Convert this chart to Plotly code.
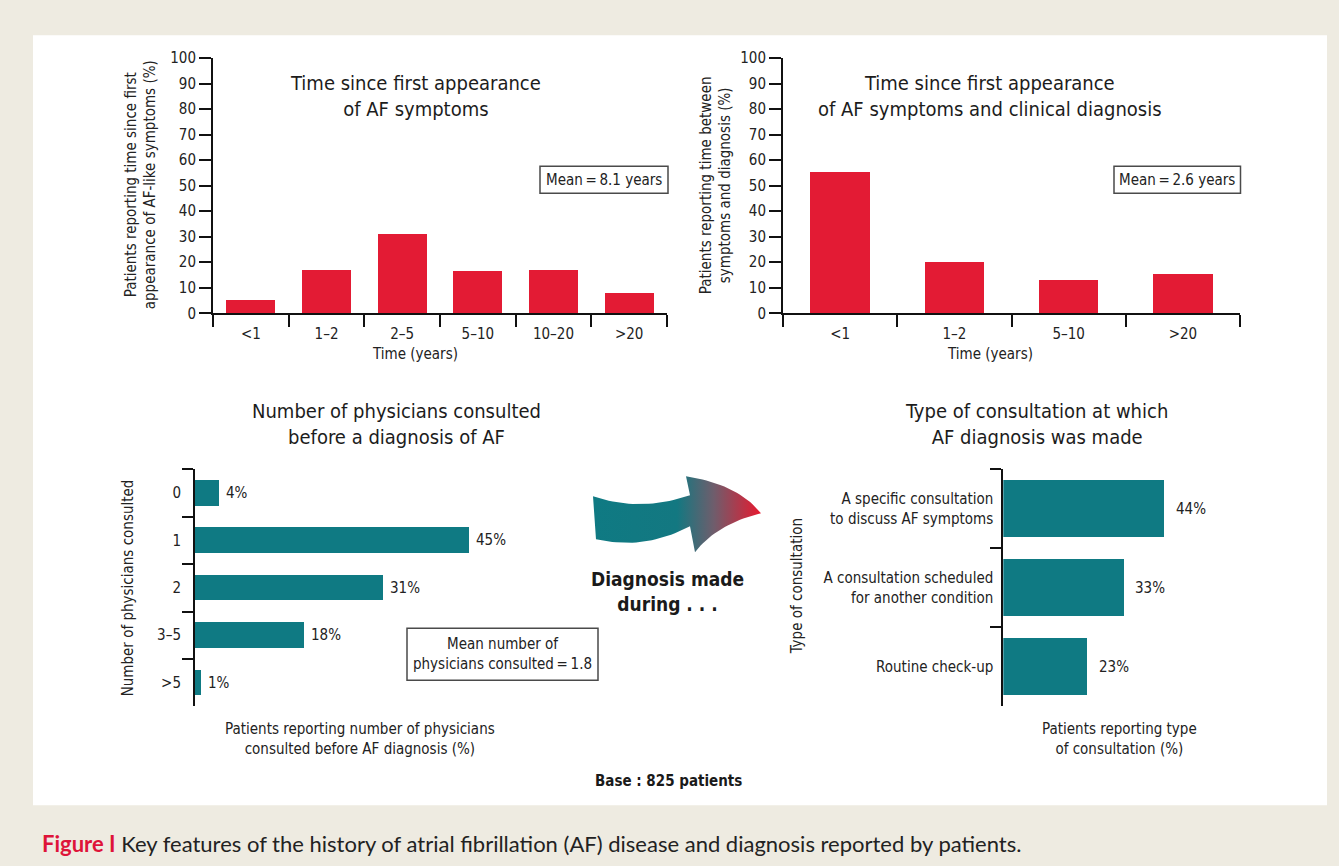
import plotly.graph_objects as go

W, H = 1339, 866

# ---- data -------------------------------------------------------------
onset_categories = ['<1', '1–2', '2–5', '5–10', '10–20', '>20']
onset_percent = [5, 17, 31, 16.5, 17, 7.8]

delay_categories = ['<1', '1–2', '5–10', '>20']
delay_percent = [55.4, 20, 13, 15.3]

physician_categories = ['0', '1', '2', '3–5', '>5']
physician_percent = [4, 45, 31, 18, 1]

consult_categories = [
    'A specific consultation<br>to discuss AF symptoms',
    'A consultation scheduled<br>for another condition',
    'Routine check-up',
]
consult_percent = [44, 33, 23]

percent_ticks = list(range(0, 101, 10))

# ---- styling ------------------------------------------------------------
RED = '#E31B34'
TEAL = '#0F7A83'
INK = '#111111'
TXT = '#222222'
FONT = 'Liberation Sans Narrow, Arial Narrow, DejaVu Sans Condensed, sans-serif'
CAPTION_FONT = 'Lato, Open Sans, sans-serif'

# vertical layout positions are given in page pixels around a centre line
YC, YS = 420.0, 0.979


def page_y(y):
    return YC + (y - YC) / YS


def fx(x):
    return x / W


def fy(y):
    return 1 - page_y(y) / H


axis_line = dict(showline=True, linewidth=2, linecolor=INK, ticks='outside',
                 tickwidth=2, tickcolor=INK, showgrid=False, zeroline=False,
                 tickfont=dict(family=FONT, size=15, color=TXT))

fig = go.Figure()

fig.add_trace(go.Bar(x=onset_categories, y=onset_percent, width=0.65,
                     marker=dict(color=RED, line=dict(width=0)),
                     xaxis='x', yaxis='y', showlegend=False))
fig.add_trace(go.Bar(x=delay_categories, y=delay_percent, width=0.52,
                     marker=dict(color=RED, line=dict(width=0)),
                     xaxis='x2', yaxis='y2', showlegend=False))
fig.add_trace(go.Bar(y=physician_categories, x=physician_percent, orientation='h',
                     width=0.54, marker=dict(color=TEAL, line=dict(width=0)),
                     xaxis='x3', yaxis='y3', showlegend=False))
fig.add_trace(go.Bar(y=consult_categories, x=consult_percent, orientation='h',
                     width=0.73, marker=dict(color=TEAL, line=dict(width=0)),
                     xaxis='x4', yaxis='y4', showlegend=False))


# curved "diagnosis" arrow drawn on a full-page pixel axis
def qbez(p0, c, p1, n=24):
    pts = []
    for i in range(n + 1):
        t = i / n
        x = (1 - t) ** 2 * p0[0] + 2 * (1 - t) * t * c[0] + t ** 2 * p1[0]
        y = (1 - t) ** 2 * p0[1] + 2 * (1 - t) * t * c[1] + t ** 2 * p1[1]
        pts.append((x, y))
    return pts


outline = []
outline += qbez((593, 496), (640, 512), (690, 495))
outline += [(686, 476)]
outline += qbez((686, 476), (738, 484), (761, 513))
outline += qbez((761, 513), (716, 524), (695, 552))
outline += [(690, 526)]
outline += qbez((690, 526), (645, 550), (596, 539))
outline += [(593, 496)]
fig.add_trace(go.Scatter(
    x=[p[0] for p in outline], y=[page_y(p[1]) for p in outline],
    mode='lines', line=dict(width=0), fill='toself',
    fillgradient=dict(type='horizontal',
                      colorscale=[[0, TEAL], [0.5, '#137881'], [0.72, '#6f5d6c'],
                                  [1, '#E8192F']]),
    xaxis='x5', yaxis='y5', showlegend=False, hoverinfo='skip'))

fig.update_layout(
    width=W, height=H, margin=dict(l=0, r=0, t=0, b=0),
    paper_bgcolor='#EEEBE1', plot_bgcolor='rgba(0,0,0,0)',
    bargap=0,
    xaxis=dict(domain=[fx(213), fx(667)], type='category', range=[-0.5, 5.5],
               tickson='boundaries', ticklen=12, ticklabelstandoff=6, anchor='y',
               **axis_line),
    yaxis=dict(domain=[fy(313), fy(58)], range=[0, 100], tickvals=percent_ticks,
               ticklen=12, anchor='x', **axis_line),
    xaxis2=dict(domain=[fx(783), fx(1240)], type='category', range=[-0.5, 3.5],
                tickson='boundaries', ticklen=12, ticklabelstandoff=6, anchor='y2',
                **axis_line),
    yaxis2=dict(domain=[fy(313), fy(58)], range=[0, 100], tickvals=percent_ticks,
                ticklen=12, anchor='x2', **axis_line),
    xaxis3=dict(domain=[fx(195), fx(195 + 6.08 * 50)], range=[0, 50], visible=False,
                anchor='y3'),
    yaxis3=dict(domain=[fy(706), fy(469)], type='category', range=[4.5, -0.5],
                tickson='boundaries', ticklen=11, ticklabelstandoff=9, anchor='x3',
                **axis_line),
    xaxis4=dict(domain=[fx(1003.3), fx(1003.3 + 3.67 * 50)], range=[0, 50],
                visible=False, anchor='y4'),
    yaxis4=dict(domain=[fy(706), fy(469)], type='category', range=[2.5, -0.5],
                tickson='boundaries', ticklen=11, ticklabelstandoff=5, anchor='x4',
                **axis_line),
    xaxis5=dict(domain=[0, 1], range=[0, W], visible=False, anchor='y5'),
    yaxis5=dict(domain=[0, 1], range=[H, 0], visible=False, anchor='x5'),
)

# white panel and the boxed notes
shapes = [dict(type='rect', xref='paper', yref='paper', x0=fx(33), x1=fx(1327),
               y0=fy(805), y1=fy(35), fillcolor='white', line=dict(width=0),
               layer='below')]
for (x0, y0, x1, y1) in [(540, 166, 668, 193), (1114, 166, 1240.5, 193),
                         (407, 628, 598, 680)]:
    shapes.append(dict(type='rect', xref='paper', yref='paper', x0=fx(x0), x1=fx(x1),
                       y0=fy(y1), y1=fy(y0), line=dict(color='#4a4a4a', width=1.5),
                       fillcolor='rgba(0,0,0,0)'))
fig.update_layout(shapes=shapes)

ann = []


def text(x, y, s, size=15, bold=False, angle=0, color=TXT, family=FONT,
         xanchor='center'):
    ann.append(dict(xref='paper', yref='paper', x=fx(x), y=fy(y), text=s,
                    showarrow=False, textangle=angle, xanchor=xanchor,
                    yanchor='middle',
                    font=dict(family=family, size=size, color=color)))


# chart titles
text(415, 96, 'Time since first appearance<br>of AF symptoms', size=20, color='#1c1c1c')
text(990, 96, 'Time since first appearance<br>of AF symptoms and clinical diagnosis',
     size=20, color='#1c1c1c')
text(396, 424, 'Number of physicians consulted<br>before a diagnosis of AF', size=20,
     color='#1c1c1c')
text(1036, 424, 'Type of consultation at which<br>AF diagnosis was made', size=20,
     color='#1c1c1c')

# axis titles
text(141, 185, 'Patients reporting time since first<br>appearance of AF-like symptoms (%)',
     angle=-90)
text(716, 185, 'Patients reporting time between<br>symptoms and diagnosis (%)', angle=-90)
text(415, 354, 'Time (years)')
text(990, 354, 'Time (years)')
text(128, 588, 'Number of physicians consulted', angle=-90)
text(360, 739, 'Patients reporting number of physicians<br>consulted before AF diagnosis (%)')
text(797, 586, 'Type of consultation', angle=-90)
text(1119, 739, 'Patients reporting type<br>of consultation (%)')

# boxed notes
text(604, 180, 'Mean\u2009=\u20098.1 years')
text(1177, 180, 'Mean\u2009=\u20092.6 years')
text(502, 654, 'Mean number of<br>physicians consulted\u2009=\u20091.8')

# arrow caption and base
text(667, 591, '<b>Diagnosis made<br>during . . .</b>', size=19, color='#1a1a1a')
text(668, 781, '<b>Base : 825 patients</b>', size=15, color='#1a1a1a')

# figure caption
text(40, 843, '<b><span style="color:#DE1439">Figure I</span></b> '
     'Key features of the history of atrial fibrillation (AF) disease and '
     'diagnosis reported by patients.', size=22, color='#222',
     family=CAPTION_FONT, xanchor='left')

# value labels on the horizontal bars
for cat, v in zip(physician_categories, physician_percent):
    ann.append(dict(xref='x3', yref='y3', x=v, y=cat, text=f'{v}%', showarrow=False,
                    xanchor='left', xshift=5,
                    font=dict(family=FONT, size=15, color=TXT)))
for cat, v in zip(consult_categories, consult_percent):
    ann.append(dict(xref='x4', yref='y4', x=v, y=cat, text=f'{v}%', showarrow=False,
                    xanchor='left', xshift=9,
                    font=dict(family=FONT, size=15, color=TXT)))

fig.update_layout(annotations=ann)

fig.write_html('out.html')
